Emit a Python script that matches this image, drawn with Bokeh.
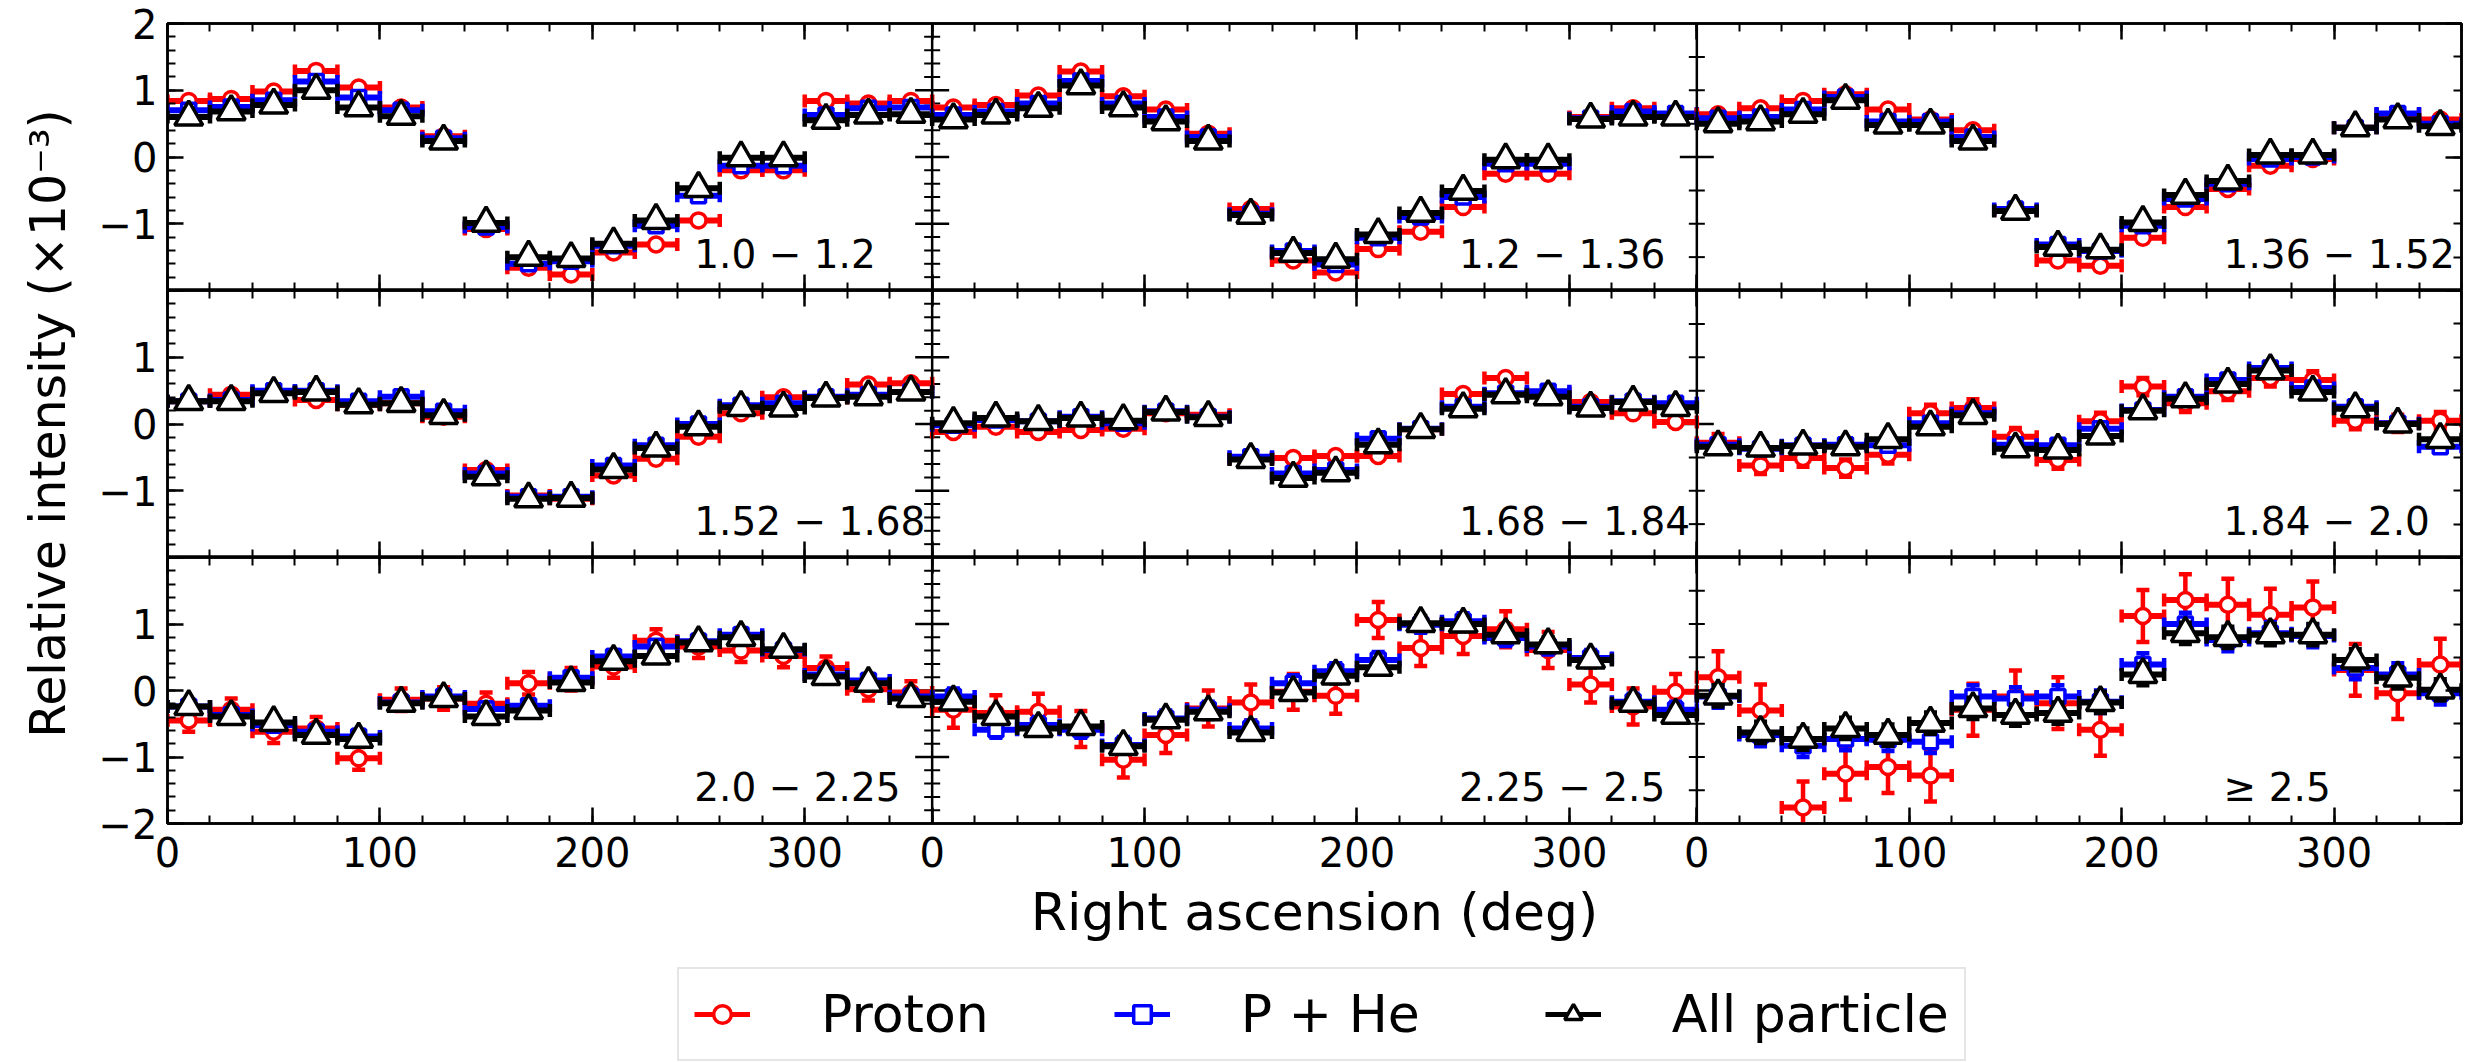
import numpy as np
from bokeh.plotting import figure
from bokeh.models import (ColumnDataSource, Whisker, TeeHead, LinearAxis, FixedTicker,
                          Range1d, Label, Legend, LegendItem, Span, CustomJSTickFormatter)
from bokeh.layouts import column, row
from bokeh.embed import file_html
from bokeh.resources import INLINE

# ---------------- data ----------------
ra_centers = [10, 30, 50, 70, 90, 110, 130, 150, 170, 190, 210, 230, 250, 270, 290, 310, 330, 350]
ra_bin_width = 20
ra_span = 360

energy_labels = ["1.0 − 1.2", "1.2 − 1.36", "1.36 − 1.52",
                 "1.52 − 1.68", "1.68 − 1.84", "1.84 − 2.0",
                 "2.0 − 2.25", "2.25 − 2.5", "≥ 2.5"]

series_names = ["Proton", "P + He", "All particle"]

proton_1 = [0.84, 0.87, 0.98, 1.29, 1.04, 0.74, 0.31, -1.08, -1.66, -1.76, -1.43, -1.31, -0.95, -0.20, -0.20, 0.84, 0.80, 0.84]
phe_1 = [0.70, 0.75, 0.85, 1.13, 0.89, 0.70, 0.28, -1.05, -1.60, -1.56, -1.33, -1.03, -0.58, -0.13, -0.13, 0.63, 0.73, 0.74]
all_1 = [0.60, 0.68, 0.78, 1.00, 0.74, 0.61, 0.24, -0.99, -1.50, -1.52, -1.30, -0.95, -0.47, -0.01, -0.01, 0.55, 0.63, 0.64]

proton_2 = [0.74, 0.78, 0.92, 1.28, 0.91, 0.71, 0.35, -0.78, -1.55, -1.73, -1.38, -1.12, -0.75, -0.25, -0.25, 0.60, 0.73, 0.63]
phe_2 = [0.63, 0.68, 0.80, 1.14, 0.80, 0.60, 0.30, -0.85, -1.41, -1.61, -1.21, -0.90, -0.60, -0.10, -0.10, 0.58, 0.68, 0.65]
all_2 = [0.56, 0.63, 0.73, 1.07, 0.74, 0.53, 0.24, -0.87, -1.44, -1.53, -1.16, -0.84, -0.51, -0.04, -0.04, 0.57, 0.60, 0.60]

proton_3 = [0.64, 0.73, 0.84, 0.94, 0.71, 0.56, 0.40, -0.80, -1.55, -1.63, -1.21, -0.75, -0.48, -0.13, -0.03, 0.44, 0.64, 0.56]
phe_3 = [0.58, 0.60, 0.71, 0.90, 0.53, 0.53, 0.30, -0.78, -1.31, -1.41, -1.03, -0.63, -0.40, -0.03, 0.00, 0.44, 0.65, 0.50]
all_3 = [0.50, 0.53, 0.64, 0.85, 0.48, 0.48, 0.24, -0.81, -1.35, -1.39, -0.98, -0.57, -0.36, 0.03, 0.03, 0.44, 0.56, 0.46]

proton_4 = [0.34, 0.44, 0.48, 0.36, 0.29, 0.31, 0.11, -0.69, -1.07, -1.12, -0.77, -0.52, -0.19, 0.16, 0.40, 0.39, 0.59, 0.61]
phe_4 = [0.34, 0.36, 0.50, 0.50, 0.34, 0.41, 0.19, -0.74, -1.09, -1.09, -0.62, -0.32, 0.00, 0.28, 0.31, 0.41, 0.44, 0.48]
all_4 = [0.34, 0.34, 0.46, 0.48, 0.29, 0.31, 0.13, -0.79, -1.12, -1.11, -0.68, -0.36, -0.04, 0.25, 0.24, 0.39, 0.41, 0.48]

proton_5 = [-0.12, -0.04, -0.12, -0.09, -0.07, 0.16, 0.14, -0.52, -0.51, -0.48, -0.48, -0.08, 0.45, 0.69, 0.46, 0.33, 0.16, 0.03]
phe_5 = [-0.02, 0.06, 0.04, 0.11, 0.01, 0.19, 0.11, -0.49, -0.74, -0.69, -0.22, -0.07, 0.26, 0.46, 0.49, 0.26, 0.34, 0.31]
all_5 = [0.01, 0.09, 0.04, 0.09, 0.05, 0.18, 0.10, -0.53, -0.81, -0.73, -0.31, -0.08, 0.23, 0.44, 0.41, 0.24, 0.33, 0.25]

proton_6 = [-0.28, -0.62, -0.51, -0.66, -0.46, 0.16, 0.24, -0.19, -0.54, 0.04, 0.56, 0.31, 0.49, 0.69, 0.66, 0.05, 0.01, 0.05]
phe_6 = [-0.31, -0.37, -0.32, -0.31, -0.32, 0.01, 0.16, -0.31, -0.32, -0.07, 0.21, 0.41, 0.66, 0.84, 0.54, 0.26, 0.01, -0.34]
all_6 = [-0.34, -0.36, -0.33, -0.34, -0.23, -0.04, 0.13, -0.37, -0.39, -0.18, 0.20, 0.38, 0.60, 0.80, 0.48, 0.23, 0.00, -0.23]

proton_7 = [-0.45, -0.29, -0.62, -0.57, -1.02, -0.14, -0.12, -0.20, 0.11, 0.17, 0.36, 0.75, 0.66, 0.60, 0.52, 0.34, 0.02, -0.03]
phe_7 = [-0.24, -0.37, -0.52, -0.62, -0.69, -0.18, -0.09, -0.28, -0.23, 0.19, 0.51, 0.66, 0.74, 0.84, 0.61, 0.24, 0.15, -0.09]
all_7 = [-0.24, -0.39, -0.48, -0.67, -0.73, -0.19, -0.12, -0.39, -0.30, 0.12, 0.44, 0.52, 0.72, 0.80, 0.62, 0.21, 0.11, -0.12]

proton_8 = [-0.29, -0.34, -0.32, -0.58, -1.04, -0.67, -0.27, -0.18, -0.02, -0.08, 1.06, 0.64, 0.82, 0.92, 0.61, 0.09, -0.24, -0.02]
phe_8 = [-0.09, -0.59, -0.52, -0.59, -0.82, -0.42, -0.29, -0.57, 0.11, 0.29, 0.46, 0.99, 1.04, 0.79, 0.66, 0.49, -0.17, -0.29]
all_8 = [-0.17, -0.39, -0.57, -0.54, -0.84, -0.44, -0.32, -0.63, -0.03, 0.22, 0.35, 1.01, 1.00, 0.84, 0.69, 0.46, -0.19, -0.37]

proton_9 = [0.20, -0.30, -1.76, -1.25, -1.15, -1.28, -0.29, -0.09, -0.19, -0.59, 1.12, 1.36, 1.29, 1.14, 1.25, 0.31, -0.04, 0.39]
phe_9 = [-0.09, -0.67, -0.83, -0.73, -0.74, -0.77, -0.09, -0.12, -0.09, -0.17, 0.39, 1.00, 0.76, 0.86, 0.82, 0.34, 0.24, -0.04]
all_9 = [-0.08, -0.63, -0.73, -0.57, -0.67, -0.49, -0.27, -0.37, -0.34, -0.18, 0.24, 0.86, 0.80, 0.84, 0.84, 0.46, 0.19, 0.01]

# per-panel statistical errors (x1e-3)
err_proton = [0.05, 0.05, 0.05, 0.05, 0.06, 0.13, 0.17, 0.27, 0.39]
err_phe = [0.04, 0.04, 0.04, 0.04, 0.05, 0.07, 0.10, 0.12, 0.17]
err_all = [0.04, 0.04, 0.04, 0.04, 0.05, 0.07, 0.09, 0.11, 0.16]

x_major = [0, 100, 200, 300]
x_minor_step = 20
y_major = [-2, -1, 0, 1, 2]

proton_all = [proton_1, proton_2, proton_3, proton_4, proton_5, proton_6, proton_7, proton_8, proton_9]
phe_all = [phe_1, phe_2, phe_3, phe_4, phe_5, phe_6, phe_7, phe_8, phe_9]
allp_all = [all_1, all_2, all_3, all_4, all_5, all_6, all_7, all_8, all_9]

# ---------------- layout / style ----------------
W = 2483
YT_W = 95                 # strip holding the y-axis title
AX_LEFT = 165             # x of the left frame edge
LEFT, RIGHT, TOP = AX_LEFT - YT_W, 22, 23
ROWS_W = W - YT_W
ROW_FRAMES = [267, 267, 266]
ROW3_BOTTOM = 134
UPPER_H = TOP + sum(ROW_FRAMES) + ROW3_BOTTOM
LEG_H = 1062 - UPPER_H
FONT = "DejaVu Sans"
TICK_FS = "40px"
TITLE_FS = "52px"

colors = ["#ff0000", "#0000ff", "#000000"]
markers = ["circle", "square", "triangle"]
msizes = [15, 14, 28]

x_ticks_all = [t + ra_span * c for c in range(3) for t in x_major]
x_minor_all = [float(v) for v in np.arange(0, 3 * ra_span + 1, x_minor_step)]
x_overrides = {t + ra_span * c: str(t) for c in range(3) for t in x_major}
y_minor_left = [float(v) for v in np.round(np.arange(-2, 2.001, 0.2), 2)]
y_minor_right = [float(v) for v in np.arange(-2, 2.001, 0.5)]


def style_axis(ax, show_labels):
    ax.axis_line_color = "black"
    ax.axis_line_width = 2.5
    ax.major_tick_line_color = "black"
    ax.major_tick_line_width = 2.5
    ax.minor_tick_line_color = "black"
    ax.minor_tick_line_width = 2
    ax.major_tick_in = 16
    ax.major_tick_out = 0
    ax.minor_tick_in = 8
    ax.minor_tick_out = 0
    if show_labels:
        ax.major_label_text_font = FONT
        ax.major_label_text_font_size = TICK_FS
        ax.major_label_text_color = "black"
        ax.major_label_standoff = 10
    else:
        ax.formatter = CustomJSTickFormatter(code="return ''")
        ax.major_label_text_font_size = "0px"
        ax.major_label_standoff = 0


rows = []
legend_sources = {}
for r in range(3):
    top = TOP if r == 0 else 0
    bottom = ROW3_BOTTOM if r == 2 else 0
    p = figure(width=ROWS_W, height=ROW_FRAMES[r] + top + bottom,
               x_range=Range1d(0, 3 * ra_span), y_range=Range1d(-2, 2),
               x_axis_location=None, y_axis_location=None,
               min_border_left=LEFT, min_border_right=RIGHT,
               min_border_top=top, min_border_bottom=bottom,
               output_backend="svg", toolbar_location=None)
    p.grid.visible = False
    p.outline_line_color = "black"
    p.outline_line_width = 2.5
    p.background_fill_color = "white"
    p.border_fill_color = "white"
    p.extra_x_ranges = {f"c{c}": Range1d(-ra_span * c, ra_span * (3 - c)) for c in range(3)}

    below = LinearAxis(ticker=FixedTicker(ticks=x_ticks_all, minor_ticks=x_minor_all))
    style_axis(below, r == 2)
    if r == 2:
        below.major_label_overrides = x_overrides
        below.major_label_standoff = 13
        below.axis_label = "Right ascension (deg)"
        below.axis_label_text_font = FONT
        below.axis_label_text_font_size = TITLE_FS
        below.axis_label_text_font_style = "normal"
        below.axis_label_text_color = "black"
        below.axis_label_standoff = 12
    p.add_layout(below, "below")
    above = LinearAxis(ticker=FixedTicker(ticks=x_ticks_all, minor_ticks=x_minor_all))
    style_axis(above, False)
    p.add_layout(above, "above")

    left = LinearAxis(ticker=FixedTicker(ticks=y_major, minor_ticks=y_minor_left))
    style_axis(left, True)
    shown = {0: [-1, 0, 1, 2], 1: [-1, 0, 1], 2: [-2, -1, 0, 1]}[r]
    left.major_label_overrides = {v: (str(v).replace("-", "−") if v in shown else "") for v in y_major}
    p.add_layout(left, "left")
    right = LinearAxis(ticker=FixedTicker(ticks=[-2, 0, 2], minor_ticks=y_minor_right))
    style_axis(right, False)
    p.add_layout(right, "right")

    # panel dividers with inward ticks on both sides
    for c in (1, 2):
        p.add_layout(Span(location=ra_span * c, dimension="height", line_color="black", line_width=2.5))
        if c == 1:
            maj = [v for v in y_major if abs(v) < 2]
            mnr = [v for v in y_minor_left if abs(v) < 2 and v not in y_major]
        else:
            maj = [0]
            mnr = [v for v in y_minor_right if abs(v) < 2 and v != 0]
        p.scatter(x=[ra_span * c] * len(maj), y=maj, marker="dash", size=34, line_color="black", line_width=2.5)
        p.scatter(x=[ra_span * c] * len(mnr), y=mnr, marker="dash", size=16, line_color="black", line_width=2)

    for c in range(3):
        k = 3 * r + c
        rng = f"c{c}"
        vals = [proton_all[k], phe_all[k], allp_all[k]]
        errs = [err_proton[k], err_phe[k], err_all[k]]
        for s in range(3):
            x = np.array(ra_centers, dtype=float)
            y = np.array(vals[s], dtype=float)
            src = ColumnDataSource(dict(
                x=x, y=y,
                xl=x - ra_bin_width / 2, xu=x + ra_bin_width / 2,
                yl=y - errs[s], yu=y + errs[s]))
            col = colors[s]
            wh = Whisker(source=src, base="y", lower="xl", upper="xu", dimension="width",
                         line_color=col, line_width=6, level="glyph", x_range_name=rng,
                         lower_head=TeeHead(size=13, line_color=col, line_width=4.5),
                         upper_head=TeeHead(size=13, line_color=col, line_width=4.5))
            wv = Whisker(source=src, base="x", lower="yl", upper="yu", dimension="height",
                         line_color=col, line_width=4.5, level="glyph", x_range_name=rng,
                         lower_head=TeeHead(size=13, line_color=col, line_width=4.5),
                         upper_head=TeeHead(size=13, line_color=col, line_width=4.5))
            p.renderers.append(wh)
            p.renderers.append(wv)
            p.scatter(x="x", y="y", source=src, marker=markers[s], size=msizes[s],
                      fill_color="white", line_color=col, line_width=3.5, x_range_name=rng)
            if k == 8:
                legend_sources[s] = src
        p.add_layout(Label(x=248, y=-1.46, x_range_name=rng, text=energy_labels[k],
                           text_font=FONT, text_font_size="39px", text_color="black",
                           text_align="left", text_baseline="alphabetic"))
    rows.append(p)

# ---------------- y-axis title strip ----------------
yt_frame_top, yt_frame_bottom = 45, 801
yt = figure(width=YT_W, height=UPPER_H,
            x_range=Range1d(0, 1), y_range=Range1d(-2, 2),
            x_axis_location=None, y_axis_location=None,
            min_border_left=76, min_border_right=0, min_border_top=yt_frame_top,
            min_border_bottom=UPPER_H - yt_frame_bottom,
            output_backend="svg", toolbar_location=None)
yt.grid.visible = False
yt.outline_line_color = None
yax = LinearAxis(ticker=FixedTicker(ticks=[]))
yax.axis_line_color = None
yax.major_tick_line_color = None
yax.minor_tick_line_color = None
yax.major_label_text_font_size = "0px"
yax.major_label_standoff = 0
yax.axis_label = "Relative intensity (×10⁻³)"
yax.axis_label_text_font = FONT
yax.axis_label_text_font_size = "49px"
yax.axis_label_text_font_style = "normal"
yax.axis_label_text_color = "black"
yax.axis_label_standoff = 0
yt.add_layout(yax, "left")

# ---------------- legend strip ----------------
lg = figure(width=W, height=LEG_H, x_range=Range1d(0, ra_span), y_range=Range1d(-2, 2),
            x_axis_location=None, y_axis_location=None,
            min_border_left=AX_LEFT, min_border_right=RIGHT, min_border_top=0, min_border_bottom=0,
            output_backend="svg", toolbar_location=None)
lg.grid.visible = False
lg.outline_line_color = None
items = []
for s in range(3):
    col = colors[s]
    src = legend_sources[s]
    hseg = lg.segment(x0="xl", y0="y", x1="xu", y1="y", source=src, line_color=col,
                      line_width=5, visible=False)
    mk = lg.scatter(x="x", y="y", source=src, marker=markers[s], fill_color="white",
                    line_color=col, line_width=3.5, visible=False)
    items.append(LegendItem(label=series_names[s], renderers=[hseg, mk]))
legend = Legend(items=items, orientation="horizontal", location=(512, 1),
                label_text_font=FONT, label_text_font_size=TITLE_FS, label_text_color="black",
                glyph_width=56, glyph_height=44, label_standoff=71,
                spacing=125, padding=15, margin=0,
                border_line_color="#cccccc", border_line_width=2.5,
                background_fill_color="white", background_fill_alpha=1.0,
                inactive_fill_alpha=0.0)
lg.add_layout(legend)

layout = column(row(yt, column(*rows, spacing=0), spacing=0), lg, spacing=0)
open("out.html", "w").write(file_html(layout, INLINE))
